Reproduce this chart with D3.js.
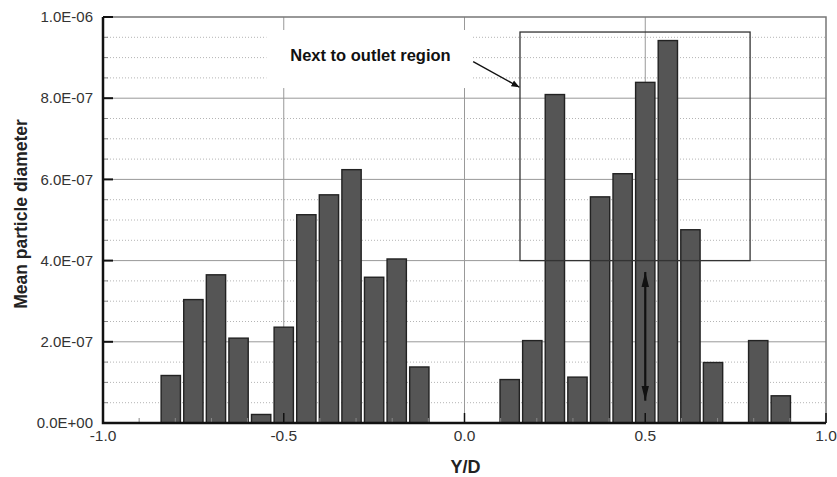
<!DOCTYPE html>
<html>
<head>
<meta charset="utf-8">
<script src="https://cdn.jsdelivr.net/npm/d3@7"></script>
<style>
  body { margin: 0; background: #fff; }
  text { font-family: "Liberation Sans", Arial, sans-serif; }
</style>
</head>
<body>
<div id="chart-area"></div>
<script>
// bin centres (Y/D) and mean particle diameter
var yd = [-0.8125, -0.75, -0.6875, -0.625, -0.5625, -0.5, -0.4375, -0.375, -0.3125, -0.25, -0.1875, -0.125,
          0.125, 0.1875, 0.25, 0.3125, 0.375, 0.4375, 0.5, 0.5625, 0.625, 0.6875, 0.8125, 0.875];
var diam = [1.17e-7, 3.04e-7, 3.65e-7, 2.09e-7, 0.21e-7, 2.36e-7, 5.13e-7, 5.62e-7, 6.24e-7, 3.59e-7, 4.04e-7, 1.38e-7,
            1.07e-7, 2.03e-7, 8.09e-7, 1.13e-7, 5.57e-7, 6.14e-7, 8.39e-7, 9.42e-7, 4.76e-7, 1.49e-7, 2.03e-7, 0.67e-7];

var xTicks = [-1.0, -0.5, 0.0, 0.5, 1.0];
var xMinorTicks = [-0.9, -0.8, -0.7, -0.6, -0.4, -0.3, -0.2, -0.1, 0.1, 0.2, 0.3, 0.4, 0.6, 0.7, 0.8, 0.9];
var yTicks = [0, 2e-7, 4e-7, 6e-7, 8e-7, 1e-6];
var yMinorTicks = [0.5e-7, 1e-7, 1.5e-7, 2.5e-7, 3e-7, 3.5e-7, 4.5e-7, 5e-7, 5.5e-7, 6.5e-7, 7e-7, 7.5e-7, 8.5e-7, 9e-7, 9.5e-7];

var annotation = "Next to outlet region";

var margin = {left: 103, right: 11, top: 17, bottom: 54};
var width = 837 - margin.left - margin.right;
var height = 477 - margin.top - margin.bottom;
var barW = 0.0534;

var svg = d3.select('#chart-area')
  .append('svg')
  .attr('width', 837)
  .attr('height', 477)
  .append("g")
  .attr("transform", "translate(" + margin.left + ", " + margin.top + ")");

var xScale = d3.scaleLinear().domain([-1, 1]).range([0, width]);
var yScale = d3.scaleLinear().domain([0, 1e-6]).range([height, 0]);

function sciFmt(v) {
  var s = v.toExponential(1).toUpperCase();
  return s.replace(/E([+-])(\d)$/, "E$10$2");
}

// minor dotted grid
svg.append("g").selectAll("line").data(yMinorTicks).enter().append("line")
  .attr("x1", 4).attr("x2", width)
  .attr("y1", d => yScale(d)).attr("y2", d => yScale(d))
  .attr("stroke", "#b4b4b4").attr("stroke-width", 1)
  .attr("stroke-dasharray", "1,2");

// major solid grid
svg.append("g").selectAll("line").data(yTicks.slice(1, -1)).enter().append("line")
  .attr("x1", 0).attr("x2", width)
  .attr("y1", d => yScale(d)).attr("y2", d => yScale(d))
  .attr("stroke", "#999").attr("stroke-width", 1);
svg.append("g").selectAll("line").data(xTicks.slice(1, -1)).enter().append("line")
  .attr("y1", 0).attr("y2", height)
  .attr("x1", d => xScale(d)).attr("x2", d => xScale(d))
  .attr("stroke", "#999").attr("stroke-width", 1);

// bars
svg.append("g").selectAll("rect").data(yd).enter().append("rect")
  .attr("x", (d) => xScale(d - barW / 2))
  .attr("width", xScale(barW) - xScale(0))
  .attr("y", (d, i) => yScale(diam[i]))
  .attr("height", (d, i) => height - yScale(diam[i]))
  .attr("fill", "#555")
  .attr("stroke", "#222")
  .attr("stroke-width", 1.4);

// frame top/right
svg.append("path")
  .attr("d", "M0,0H" + width + "V" + height)
  .attr("fill", "none").attr("stroke", "#777").attr("stroke-width", 1.5);

// ticks
svg.append("g").selectAll("line").data(xMinorTicks).enter().append("line")
  .attr("x1", d => xScale(d)).attr("x2", d => xScale(d))
  .attr("y1", height).attr("y2", height - 5)
  .attr("stroke", "#888").attr("stroke-width", 1);
svg.append("g").selectAll("line").data(xTicks).enter().append("line")
  .attr("x1", d => xScale(d)).attr("x2", d => xScale(d))
  .attr("y1", height).attr("y2", height - 10)
  .attr("stroke", "#111").attr("stroke-width", 1.5);
svg.append("g").selectAll("line").data(yMinorTicks).enter().append("line")
  .attr("x1", 0).attr("x2", 5)
  .attr("y1", d => yScale(d)).attr("y2", d => yScale(d))
  .attr("stroke", "#888").attr("stroke-width", 1);
svg.append("g").selectAll("line").data(yTicks).enter().append("line")
  .attr("x1", 0).attr("x2", 10)
  .attr("y1", d => yScale(d)).attr("y2", d => yScale(d))
  .attr("stroke", "#111").attr("stroke-width", 2);

// axes lines
svg.append("path")
  .attr("d", "M0,0V" + height + "H" + width)
  .attr("fill", "none").attr("stroke", "#111").attr("stroke-width", 2.5);

// tick labels
svg.append("g").selectAll("text").data(xTicks).enter().append("text")
  .attr("x", d => xScale(d)).attr("y", height + 18)
  .attr("text-anchor", "middle").attr("font-size", "15.5px").attr("fill", "#333")
  .text(d => d.toFixed(1));
svg.append("g").selectAll("text").data(yTicks).enter().append("text")
  .attr("x", -10).attr("y", d => yScale(d)).attr("dy", "0.35em")
  .attr("text-anchor", "end").attr("font-size", "15px").attr("fill", "#333")
  .text(sciFmt);

// axis titles
svg.append("text")
  .attr("x", width / 2 + 1).attr("y", height + 50)
  .attr("text-anchor", "middle").attr("font-size", "18px").attr("font-weight", "bold")
  .attr("fill", "#222").text("Y/D");
svg.append("text")
  .attr("transform", "rotate(-90)")
  .attr("x", -197).attr("y", -76)
  .attr("text-anchor", "middle").attr("font-size", "17.5px").attr("font-weight", "bold")
  .attr("fill", "#222").text("Mean particle diameter");

// annotation box around outlet bars
svg.append("rect")
  .attr("x", xScale(0.1535)).attr("y", yScale(0.963e-6))
  .attr("width", xScale(0.79) - xScale(0.1535))
  .attr("height", yScale(0.4e-6) - yScale(0.963e-6))
  .attr("fill", "none").attr("stroke", "#333").attr("stroke-width", 1.3);

// label with white background
svg.append("rect")
  .attr("x", xScale(-0.548)).attr("y", yScale(0.968e-6))
  .attr("width", xScale(0.022) - xScale(-0.548))
  .attr("height", yScale(0.825e-6) - yScale(0.968e-6))
  .attr("fill", "#fff");
svg.append("text")
  .attr("x", xScale(-0.482)).attr("y", yScale(0.891e-6))
  .attr("font-size", "16.5px").attr("font-weight", "bold").attr("fill", "#111")
  .text(annotation);

var defs = d3.select("svg").append("defs");
defs.append("marker")
  .attr("id", "head").attr("viewBox", "0 0 10 10")
  .attr("refX", 10).attr("refY", 5)
  .attr("markerWidth", 8).attr("markerHeight", 8)
  .attr("markerUnits", "userSpaceOnUse")
  .attr("orient", "auto-start-reverse")
  .append("path").attr("d", "M0,1L10,5L0,9Z").attr("fill", "#111");
defs.append("marker")
  .attr("id", "head2").attr("viewBox", "0 0 16 8")
  .attr("refX", 16).attr("refY", 4)
  .attr("markerWidth", 15).attr("markerHeight", 8)
  .attr("markerUnits", "userSpaceOnUse")
  .attr("orient", "auto-start-reverse")
  .append("path").attr("d", "M0,0L16,4L0,8Z").attr("fill", "#111");

// pointer arrow
svg.append("line")
  .attr("x1", xScale(0.024)).attr("y1", yScale(0.89e-6))
  .attr("x2", xScale(0.152)).attr("y2", yScale(0.827e-6))
  .attr("stroke", "#111").attr("stroke-width", 1.4)
  .attr("marker-end", "url(#head)");

// double arrow at Y/D = 0.5
svg.append("line")
  .attr("x1", xScale(0.5)).attr("y1", yScale(0.372e-6))
  .attr("x2", xScale(0.5)).attr("y2", yScale(0.055e-6))
  .attr("stroke", "#111").attr("stroke-width", 2.2)
  .attr("marker-start", "url(#head2)")
  .attr("marker-end", "url(#head2)");
</script>
</body>
</html>
